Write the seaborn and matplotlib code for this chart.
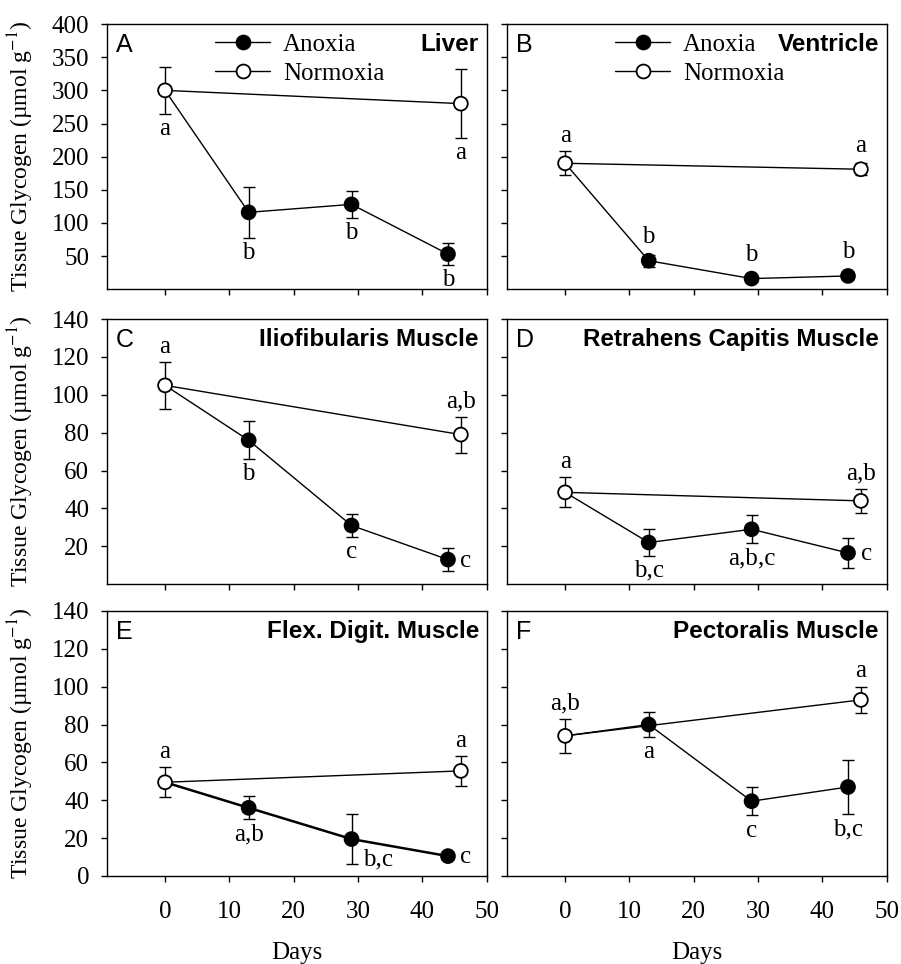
import matplotlib
matplotlib.use('Agg')
import matplotlib.pyplot as plt
import seaborn as sns
import pandas as pd
from matplotlib.lines import Line2D

# sampling days (anoxia series starts from the day-0 normoxic control)
NORMOXIA_DAYS = [0, 46]
ANOXIA_DAYS = [13, 29, 44]

PANEL_LETTERS = ['A', 'B', 'C', 'D', 'E', 'F']
TISSUES = ['Liver', 'Ventricle', 'Iliofibularis Muscle', 'Retrahens Capitis Muscle',
           'Flex. Digit. Muscle', 'Pectoralis Muscle']

# tissue glycogen, umol/g (mean and SEM)
normoxia_mean = [[300, 280], [190, 181], [105, 79], [48.5, 44], [49.5, 55.5], [74, 93]]
normoxia_sem = [[35, 52], [18, 9], [12.5, 9.5], [8, 6.5], [8, 8], [9, 7]]
anoxia_mean = [[116, 128, 53], [43, 16, 20], [76, 31, 13], [22, 29, 16.5], [36, 19.5, 10.5], [80, 39.5, 47]]
anoxia_sem = [[38, 20, 16], [9, 3, 4], [10, 6, 6], [7, 7.5, 8], [6, 13, 1.5], [6.5, 7.5, 14.5]]

# significance letters
normoxia_sig = [['a', 'a'], ['a', 'a'], ['a', 'a,b'], ['a', 'a,b'], ['a', 'a'], ['a,b', 'a']]
anoxia_sig = [['b', 'b', 'b'], ['b', 'b', 'b'], ['b', 'c', 'c'], ['b,c', 'a,b,c', 'c'],
              ['a,b', 'b,c', 'c'], ['a', 'c', 'b,c']]

# where each letter sits relative to its point
normoxia_where = [['below', 'below'], ['above', 'above'], ['above', 'above'],
                  ['above', 'above'], ['above', 'above'], ['above', 'above']]
anoxia_where = [['below', 'below', 'below'], ['above', 'above', 'above'],
                ['below', 'below', 'right'], ['below', 'below', 'right'],
                ['below', 'lowright', 'right'], ['below', 'below', 'below']]

Y_TOP = [(0, 400, list(range(50, 401, 50))), (0, 140, list(range(20, 141, 20))),
         (0, 140, list(range(0, 141, 20)))]

FS = 18
MS = 10

sns.set_style('ticks')
plt.rcParams['font.family'] = ['Liberation Serif', 'DejaVu Serif']
plt.rcParams['mathtext.fontset'] = 'stix'
for key in ['text.color', 'axes.labelcolor', 'xtick.color', 'ytick.color', 'axes.edgecolor']:
    plt.rcParams[key] = 'black'

fig = plt.figure(figsize=(9.01, 9.64), dpi=100)
lefts = [0.119, 0.563]
bottoms = [0.700, 0.394, 0.0913]
W, H = 0.421, 0.275


def label_dist(ax, y, e):
    p0 = ax.transData.transform((0, y))[1]
    p1 = ax.transData.transform((0, y + e))[1]
    return max(abs(p1 - p0) * 72 / fig.dpi, MS / 2 + 1)


for i in range(6):
    row, col = divmod(i, 2)
    ax = fig.add_axes([lefts[col], bottoms[row], W, H])
    ylo, yhi, yt = Y_TOP[row]
    ax.set_xlim(-9, 50)
    ax.set_ylim(ylo, yhi)
    ax.set_xticks(range(0, 51, 10))
    ax.set_yticks(yt)

    nm, ns = normoxia_mean[i], normoxia_sem[i]
    am, asem = anoxia_mean[i], anoxia_sem[i]

    lines = pd.DataFrame(
        [('Normoxia', d, v) for d, v in zip(NORMOXIA_DAYS, nm)]
        + [('Anoxia', 0, nm[0])]
        + [('Anoxia', d, v) for d, v in zip(ANOXIA_DAYS, am)],
        columns=['condition', 'day', 'glycogen'])
    points = pd.DataFrame(
        [('Anoxia', d, v, e) for d, v, e in zip(ANOXIA_DAYS, am, asem)]
        + [('Normoxia', d, v, e) for d, v, e in zip(NORMOXIA_DAYS, nm, ns)],
        columns=['condition', 'day', 'glycogen', 'err'])

    lw_anox = 1.8 if i == 4 else 1.0
    sns.lineplot(data=lines[lines.condition == 'Anoxia'], x='day', y='glycogen',
                 color='black', linewidth=lw_anox, sort=False, estimator=None, ax=ax)
    sns.lineplot(data=lines[lines.condition == 'Normoxia'], x='day', y='glycogen',
                 color='black', linewidth=1.0, sort=False, estimator=None, ax=ax)
    ax.errorbar(points['day'], points['glycogen'], yerr=points['err'], fmt='none',
                ecolor='black', elinewidth=1.0, capsize=4, capthick=1.0, zorder=3)
    sns.scatterplot(data=points, x='day', y='glycogen', hue='condition',
                    palette={'Anoxia': 'black', 'Normoxia': 'white'},
                    edgecolor='black', linewidth=1.3, s=MS ** 2, legend=False,
                    zorder=4, ax=ax)

    # significance letters
    sig_pts = list(zip(NORMOXIA_DAYS, nm, ns, normoxia_sig[i], normoxia_where[i])) + \
        list(zip(ANOXIA_DAYS, am, asem, anoxia_sig[i], anoxia_where[i]))
    for d, v, e, s, where in sig_pts:
        if where == 'below':
            off = label_dist(ax, v, -e) + 3
            ax.annotate(s, (d, v), xytext=(0, -off), textcoords='offset points',
                        ha='center', va='top', fontsize=FS)
        elif where == 'above':
            off = label_dist(ax, v, e) + 3
            ax.annotate(s, (d, v), xytext=(0, off), textcoords='offset points',
                        ha='center', va='bottom', fontsize=FS)
        elif where == 'right':
            ax.annotate(s, (d, v), xytext=(9, -1), textcoords='offset points',
                        ha='left', va='center', fontsize=FS)
        else:
            ax.annotate(s, (d, v - e), xytext=(8, 3), textcoords='offset points',
                        ha='left', va='center', fontsize=FS)

    ax.text(0.022, 0.965, PANEL_LETTERS[i], transform=ax.transAxes, ha='left', va='top',
            fontsize=FS, family='Liberation Sans')
    ax.text(0.98, 0.965, TISSUES[i], transform=ax.transAxes, ha='right', va='top',
            fontsize=FS - 0.5, family='Liberation Sans', fontweight='bold')

    if row == 0:
        handles = [Line2D([], [], color='black', lw=1, marker='o', ms=MS,
                          mfc='black', mec='black', mew=1.3),
                   Line2D([], [], color='black', lw=1, marker='o', ms=MS,
                          mfc='white', mec='black', mew=1.3)]
        ax.legend(handles, ['Anoxia', 'Normoxia'], loc='upper left',
                  bbox_to_anchor=(0.285, 0.965), frameon=False, fontsize=FS,
                  handlelength=2.2, handletextpad=0.5, borderpad=0,
                  borderaxespad=0, labelspacing=0.25)

    for sp in ax.spines.values():
        sp.set_visible(True)
        sp.set_linewidth(1.0)
        sp.set_color('black')
    ax.tick_params(axis='both', direction='out', length=4, width=1, labelsize=FS)
    ax.tick_params(axis='x', pad=14)
    ax.tick_params(axis='y', pad=9)

    if row < 2:
        ax.set_xticklabels([])
        ax.set_xlabel('')
    else:
        ax.set_xlabel('Days', fontsize=FS, labelpad=14)
    if col == 1:
        ax.set_yticklabels([])
        ax.set_ylabel('')
    else:
        ax.set_ylabel('Tissue Glycogen (µmol g$^{-1}$)', fontsize=17, labelpad=11)

fig.savefig('out.png', dpi=100)
